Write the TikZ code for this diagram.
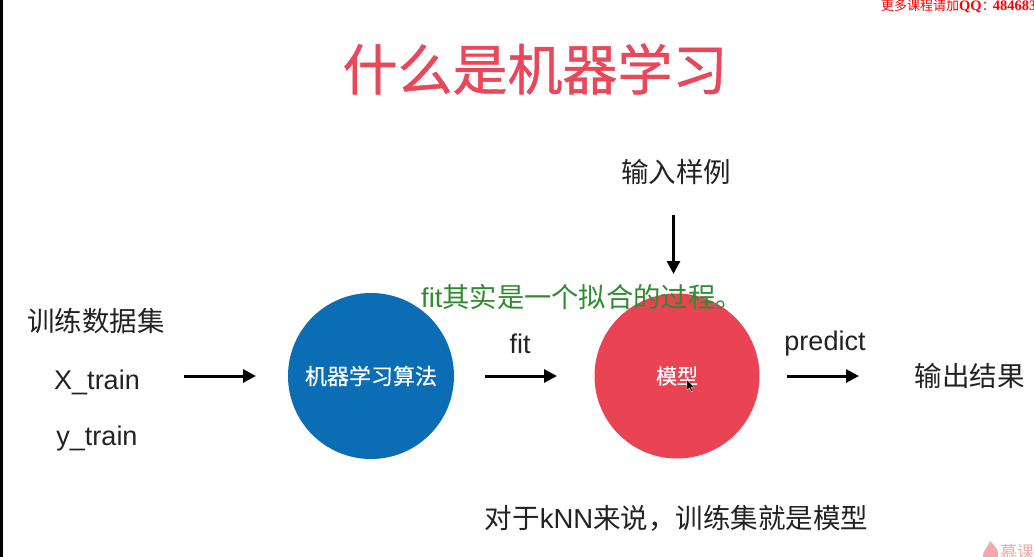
\documentclass[tikz,border=0pt]{standalone}
\usepackage{fontspec}
\setmainfont{Liberation Sans}
\newfontfamily\cjk{Noto Sans CJK SC}
\newfontfamily\cjkt{Noto Sans CJK SC}[FakeBold=0.8]
\newfontfamily\cjkm{Noto Sans CJK SC}[FakeBold=0.5]
\newfontfamily\serifb{Liberation Serif}
\usetikzlibrary{arrows.meta}
\definecolor{titlered}{HTML}{E9475A}
\definecolor{modelred}{HTML}{EA4454}
\definecolor{algoblue}{HTML}{0B6DB3}
\definecolor{subgreen}{HTML}{2E8B2E}
\definecolor{inktext}{HTML}{222222}
\definecolor{wmred}{HTML}{F0A8A8}
\tikzset{
  lbl/.style={inner sep=0pt,text=inktext,font=\fontsize{27.5}{30}\selectfont\cjk},
  latin/.style={inner sep=0pt,text=inktext,font=\fontsize{27}{30}\selectfont},
  flow/.style={draw=black,line width=3pt,-{Triangle[length=13pt,width=13pt]},shorten >=-1pt},
  ball/.style={circle,inner sep=0pt,text=white},
}
\begin{document}
\begin{tikzpicture}[x=1pt,y=-1pt]
\useasboundingbox (0,0) rectangle (1034,557);
\clip (0,0) rectangle (1034,557);
\fill[white] (0,0) rectangle (1034,557);
\fill[black] (0,0) rectangle (3,557);
\node[inner sep=0pt,text=titlered,font=\fontsize{55}{60}\selectfont\cjkt] (title) at (535,69) {什么是机器学习};
\node[inner sep=0pt,anchor=west,text=red,font=\fontsize{14.5}{16}\selectfont] (promo) at (881,6) {{\fontsize{13}{16}\selectfont\cjk 更多课程请加}{\serifb\bfseries QQ}{\fontsize{13}{16}\selectfont\cjk ：}\hspace{-2pt}{\serifb\bfseries 4846835}};
\node[lbl] (input) at (676,172) {输入样例};
\node[lbl] (train) at (96,321) {训练数据集};
\node[latin] (xtrain) at (97,382) {X\_train};
\node[latin] (ytrain) at (97,439) {y\_train};
\node[ball,fill=algoblue,minimum size=166pt,font=\fontsize{22}{24}\selectfont\cjkm] (algo) at (371,376) {机器学习算法};
\node[ball,fill=modelred,minimum size=165pt,font=\fontsize{21}{24}\selectfont\cjkm] (model) at (677,376) {模型};
\node[latin] (fit) at (520,344) {fit};
\node[latin] (predict) at (825,344) {predict};
\node[lbl] (output) at (969.5,376) {输出结果};
\node[inner sep=0pt,text=inktext,font=\fontsize{27.5}{30}\selectfont] (note) at (676.5,518) {{\cjk 对于}kNN{\cjk 来说，训练集就是模型}};
\node[inner sep=0pt,text=subgreen,font=\fontsize{27.3}{30}\selectfont] (subtitle) at (582,297) {fit{\cjk 其实是一个拟合的过程。}};
\coordinate (a1s) at (184,376); \coordinate (a1e) at (255,376);
\coordinate (a2s) at (485,376); \coordinate (a2e) at (556,376);
\coordinate (a3s) at (787,376); \coordinate (a3e) at (858,376);
\coordinate (a4s) at (673.5,215); \coordinate (a4e) at (673.5,273);
\draw[flow] (a1s) -- (a1e);
\draw[flow] (a2s) -- (a2e);
\draw[flow] (a3s) -- (a3e);
\draw[flow] (a4s) -- (a4e);
\fill[black,draw=white,line width=.3pt] (687,380) -- (687,390) -- (689.5,388) -- (691.5,392) -- (693,391) -- (691,387.5) -- (694,387) -- cycle;
\fill[wmred] (983,557) .. controls (983,549) and (988,548) .. (990,541) .. controls (995,546) and (999,550) .. (998,557) -- cycle;
\node[inner sep=0pt,anchor=west,text=wmred,font=\fontsize{17}{18}\selectfont\cjk] (brand) at (1000,552) {慕课};
\end{tikzpicture}
\end{document}
